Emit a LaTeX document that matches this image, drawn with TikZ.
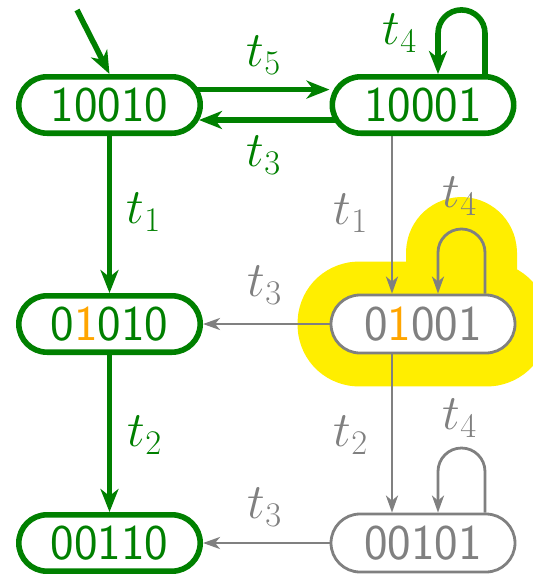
\documentclass[tikz,border=0pt]{standalone}
\usetikzlibrary{arrows.meta,calc}
\definecolor{G}{RGB}{0,128,0}
\definecolor{O}{RGB}{255,165,0}
\definecolor{Y}{RGB}{255,238,0}
\definecolor{Gr}{RGB}{128,128,128}
\pgfdeclarelayer{bg}
\pgfdeclarelayer{edges}
\pgfsetlayers{bg,edges,main}
\begin{document}
\begin{tikzpicture}[x=0.5pt,y=-0.5pt,
 every node/.style={font=\fontsize{25}{30}\selectfont},
 gs/.style={draw=G, text=G, line width=2.8pt, fill=white, rounded corners=14.1pt, minimum width=90.7pt, minimum height=28.2pt, inner sep=0pt, font=\fontsize{25}{30}\selectfont\sffamily},
 ys/.style={draw=Gr, text=Gr, line width=1.4pt, fill=white, rounded corners=14.5pt, minimum width=92pt, minimum height=29pt, inner sep=0pt, font=\fontsize{25}{30}\selectfont\sffamily},
 ge/.style={draw=G, line width=2.8pt, -{Stealth[length=11.5pt,width=9pt,inset=3.5pt]}},
 ye/.style={draw=Gr, line width=1.4pt, -{Stealth[length=8.5pt,width=6pt,inset=2.5pt]}},
 gl/.style={text=G}, yl/.style={text=Gr},
 hl/.style={draw=Y, fill=Y, line width=32pt, line join=round, line cap=round}]
\useasboundingbox (0,0) rectangle (532,574);
\node[gs] (s1) at (109.5,105) {10010};
\node[gs] (s2) at (423,105) {10001};
\node[gs] (s3) at (109.5,324) {0\textcolor{O}{1}010};
\node[ys] (s4) at (423,324) {0\textcolor{O}{1}001};
\node[gs] (s5) at (109.5,543) {00110};
\node[ys] (s6) at (423,543) {00101};
\begin{pgfonlayer}{bg}
\draw[hl, rounded corners=14.5pt] (s4.north west) rectangle (s4.south east);
\draw[hl] ([xshift=31pt]s4.north) -- ++(0,20.55pt) arc[start angle=0,end angle=180,radius=11.75pt] -- ([xshift=7.5pt]s4.north);
\end{pgfonlayer}
\begin{pgfonlayer}{edges}
\coordinate (init) at (77,10);
\draw[ge] (init) -- (s1.north);
\draw[ge] ([yshift=7.7pt]s1.center) -- ([yshift=7.7pt]s2.west);
\draw[ge, shorten >=-2pt] ([yshift=-7.5pt]s2.center) -- ([yshift=-7.5pt]s1.east);
\draw[ge] ([xshift=31pt]s2.north) -- ++(0,20.3pt) arc[start angle=0,end angle=180,radius=11.75pt] -- ([xshift=7.5pt]s2.north);
\draw[ge] (s1.south) -- (s3.north);
\draw[ge] (s3.south) -- (s5.north);
\draw[ye] ([xshift=-15.5pt]s2.south) -- ([xshift=-15.5pt]s4.north);
\draw[ye] ([xshift=-15.5pt]s4.south) -- ([xshift=-15.5pt]s6.north);
\draw[ye] (s4.west) -- (s3.east);
\draw[ye] (s6.west) -- (s5.east);
\draw[ye] ([xshift=31pt]s4.north) -- ++(0,20.55pt) arc[start angle=0,end angle=180,radius=11.75pt] -- ([xshift=7.5pt]s4.north);
\draw[ye] ([xshift=31pt]s6.north) -- ++(0,20.55pt) arc[start angle=0,end angle=180,radius=11.75pt] -- ([xshift=7.5pt]s6.north);
\end{pgfonlayer}
\node[gl] (l5) at (264,55) {$t_5$};
\node[gl] (l3a) at (264,155) {$t_3$};
\node[gl] (l4a) at (400,33) {$t_4$};
\node[gl] (l1a) at (144,212) {$t_1$};
\node[yl] (l1b) at (351,213) {$t_1$};
\node[yl] (l3b) at (265,285) {$t_3$};
\node[yl] (l4b) at (460,196) {$t_4$};
\node[gl] (l2a) at (145,435) {$t_2$};
\node[yl] (l2b) at (351,435) {$t_2$};
\node[yl] (l4c) at (460,418) {$t_4$};
\node[yl] (l3c) at (265,507) {$t_3$};
\end{tikzpicture}
\end{document}
